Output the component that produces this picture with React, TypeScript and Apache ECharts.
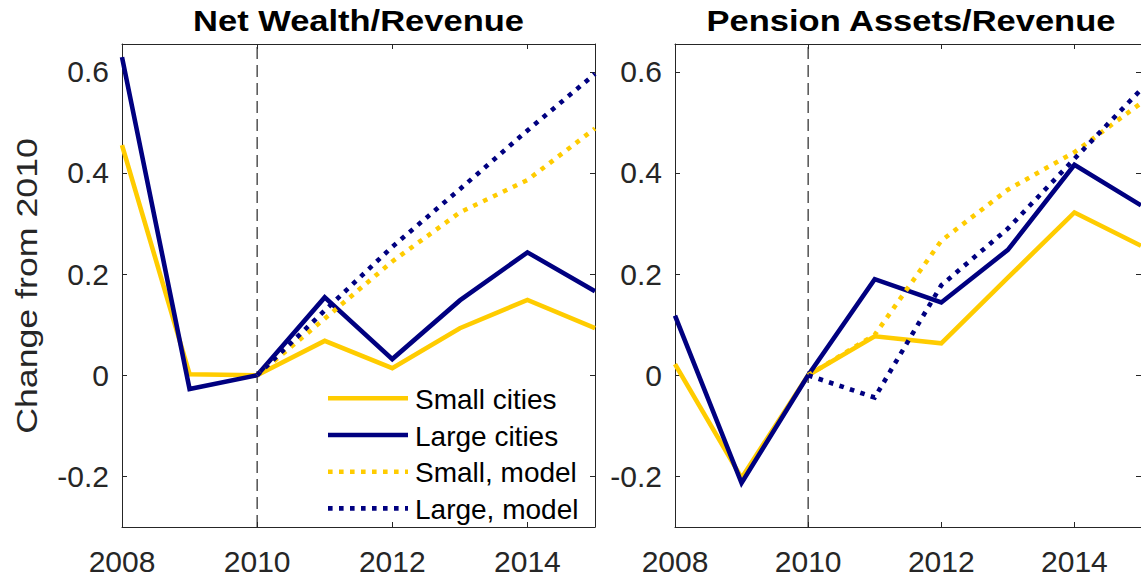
import React, { useEffect, useRef } from "react";
import * as echarts from "echarts";

const years = [2008, 2009, 2010, 2011, 2012, 2013, 2014, 2015];
const xTicks = [2008, 2010, 2012, 2014];
const yTicks = [-0.2, 0, 0.2, 0.4, 0.6];
const seriesNames = ["Small cities", "Large cities", "Small, model", "Large, model"];
const panelTitles = ["Net Wealth/Revenue", "Pension Assets/Revenue"];
const yLabel = "Change from 2010";

const nwSmall = [0.455, 0.002, 0, 0.068, 0.014, 0.093, 0.149, 0.093];
const nwLarge = [0.629, -0.027, 0, 0.154, 0.032, 0.148, 0.243, 0.166];
const nwSmallModel = [null, null, 0, 0.112, 0.225, 0.322, 0.386, 0.488];
const nwLargeModel = [null, null, 0, 0.128, 0.254, 0.368, 0.484, 0.596];

const paSmall = [0.022, -0.203, 0, 0.077, 0.063, 0.193, 0.322, 0.256];
const paLarge = [0.118, -0.213, 0, 0.19, 0.144, 0.248, 0.416, 0.336];
const paSmallModel = [null, null, 0, 0.08, 0.266, 0.367, 0.441, 0.538];
const paLargeModel = [null, null, 0, -0.044, 0.178, 0.29, 0.428, 0.565];

const refYear = 2010;
const Y_MIN = -0.3;
const Y_MAX = 0.655;

const YELLOW = "#FFCC00";
const NAVY = "#000080";
const AX = "#262626";
const FONT = "'Liberation Sans', Arial, Helvetica, sans-serif";
const LW = 4.6;
const DOTS = [4.6, 6.4];

function pairs(vals: (number | null)[]) {
  return years.map((y, i) => [y, vals[i]]).filter((p) => p[1] !== null);
}

export default function App() {
  const ref = useRef<HTMLDivElement>(null);
  useEffect(() => {
    if (!ref.current) return;
    const chart = echarts.init(ref.current, null, { renderer: "svg" });
    const grids = [
      { left: 122, top: 44, width: 473, height: 483 },
      { left: 675, top: 44, width: 472.5, height: 483 },
    ];
    const xAxes: any[] = [];
    const yAxes: any[] = [];
    grids.forEach((_, gi) => {
      xAxes.push({
        type: "value", gridIndex: gi, min: 2008, max: 2015, position: "bottom",
        axisLine: { show: true, onZero: false, lineStyle: { color: AX, width: 1 } },
        axisTick: { show: true, inside: true, length: 5, customValues: xTicks, lineStyle: { color: AX } },
        axisLabel: { show: true, customValues: xTicks, formatter: (v: number) => String(v), color: AX, fontSize: 30, fontFamily: FONT, margin: 19 },
        splitLine: { show: false },
      });
      xAxes.push({
        type: "value", gridIndex: gi, min: 2008, max: 2015, position: "top",
        axisLine: { show: true, onZero: false, lineStyle: { color: AX, width: 1 } },
        axisTick: { show: true, inside: true, length: 5, customValues: xTicks, lineStyle: { color: AX } },
        axisLabel: { show: false },
        splitLine: { show: false },
      });
      yAxes.push({
        type: "value", gridIndex: gi, min: Y_MIN, max: Y_MAX, position: "left",
        axisLine: { show: true, onZero: false, lineStyle: { color: AX, width: 1 } },
        axisTick: { show: true, inside: true, length: 5, customValues: yTicks, lineStyle: { color: AX } },
        axisLabel: { show: true, customValues: yTicks, formatter: (v: number) => String(Math.round(v * 10) / 10), color: AX, fontSize: 30, fontFamily: FONT, margin: 13 },
        splitLine: { show: false },
      });
      yAxes.push({
        type: "value", gridIndex: gi, min: Y_MIN, max: Y_MAX, position: "right",
        axisLine: { show: true, onZero: false, lineStyle: { color: AX, width: 1 } },
        axisTick: { show: true, inside: true, length: 5, customValues: yTicks, lineStyle: { color: AX } },
        axisLabel: { show: false },
        splitLine: { show: false },
      });
    });

    const panels = [
      [nwSmall, nwLarge, nwSmallModel, nwLargeModel],
      [paSmall, paLarge, paSmallModel, paLargeModel],
    ];
    const styles: any[] = [
      { color: YELLOW, type: "solid" },
      { color: NAVY, type: "solid" },
      { color: YELLOW, type: DOTS },
      { color: NAVY, type: DOTS },
    ];
    const series: any[] = [];
    panels.forEach((pd, gi) => {
      series.push({
        type: "line", name: "ref", xAxisIndex: gi * 2, yAxisIndex: gi * 2,
        data: [[refYear, Y_MIN], [refYear, Y_MAX]], symbol: "none", silent: true,
        lineStyle: { color: AX, width: 1.2, type: [12, 6] },
      });
      pd.forEach((vals, si) => {
        series.push({
          type: "line", name: seriesNames[si], xAxisIndex: gi * 2, yAxisIndex: gi * 2,
          data: pairs(vals), symbol: "none", showSymbol: false,
          itemStyle: { color: styles[si].color },
          lineStyle: { color: styles[si].color, width: LW, type: styles[si].type, cap: "butt", join: "miter" },
        });
      });
    });

    const legendEls: any[] = [];
    seriesNames.forEach((nm, i) => {
      const y = 398.3 + i * 36.7;
      legendEls.push({
        type: "line", shape: { x1: 328, y1: y, x2: 408, y2: y },
        style: { stroke: styles[i].color, lineWidth: LW, lineDash: styles[i].type === "solid" ? null : DOTS, lineCap: "butt" },
      });
      legendEls.push({
        type: "text", x: 415, y: y + 1,
        style: { text: nm, align: "left", verticalAlign: "middle", font: `28px ${FONT}`, fill: "#000" },
      });
    });

    chart.setOption({
      animation: false,
      backgroundColor: "#fff",
      grid: grids,
      xAxis: xAxes,
      yAxis: yAxes,
      graphic: [
        { type: "text", x: 358.5, y: 21, scaleX: 1.15, style: { text: panelTitles[0], align: "center", verticalAlign: "middle", font: `bold 30px ${FONT}`, fill: "#000" } },
        { type: "text", x: 911, y: 21, scaleX: 1.15, style: { text: panelTitles[1], align: "center", verticalAlign: "middle", font: `bold 30px ${FONT}`, fill: "#000" } },
        { type: "text", x: 27, y: 286, rotation: Math.PI / 2, scaleX: 1.19, style: { text: yLabel, align: "center", verticalAlign: "middle", font: `30px ${FONT}`, fill: AX } },
        ...legendEls,
      ],
      series,
    });
    return () => chart.dispose();
  }, []);
  return <div ref={ref} style={{ position: "fixed", left: 0, top: 0, width: 1141, height: 579, background: "#fff" }} />;
}
